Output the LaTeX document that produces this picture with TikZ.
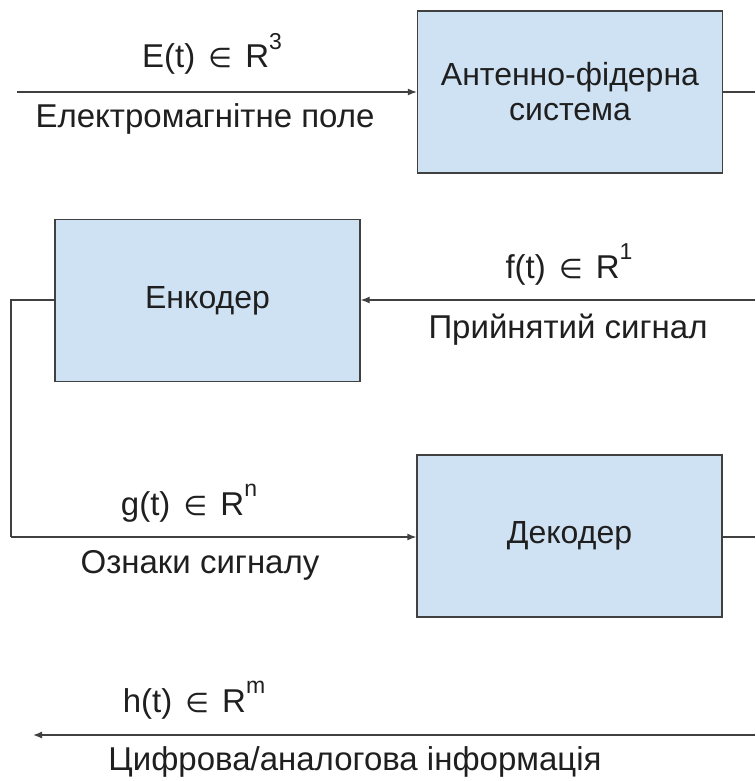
\documentclass[tikz,border=0pt]{standalone}
\usepackage{fontspec}
\setmainfont{Liberation Sans}
\newfontfamily\symfont{DejaVu Sans}
\usetikzlibrary{arrows.meta,positioning}
\definecolor{boxblue}{HTML}{CFE2F3}
\definecolor{edgegray}{HTML}{404040}
\definecolor{inkgray}{HTML}{1F1F1F}
% signal name with its space
\newcommand{\sigspace}[2]{#1(t)\hspace{0.4em}\scalebox{0.82}{\symfont\char"2208}\hspace{0.4em}R\raisebox{0.55em}{\fontsize{23}{23}\selectfont #2}}

\begin{document}
\begin{tikzpicture}[x=1pt,y=-1pt,
    block/.style={draw=edgegray, fill=boxblue, line width=1.3pt, minimum width=305pt,
        minimum height=162pt, align=center, text=inkgray, font=\fontsize{32}{35}\selectfont},
    link/.style={draw=edgegray, line width=1.3pt},
    arr/.style={link, -{Latex[length=9pt,width=7pt]}},
    lbl/.style={font=\fontsize{33}{36}\selectfont, text=inkgray, inner sep=0pt, anchor=base}]
    \useasboundingbox (0,0) rectangle (755,781);

    % blocks
    \node[block] (afs) at (570,92) {Антенно-фідерна\\система};
    \node[block] (enc) at (207.5,300.5) {Енкодер};
    \node[block] (dec) at (569.5,536) {Декодер};

    % free ends
    \coordinate (fieldin) at (17,92);
    \coordinate (afsout) at (755,92);
    \coordinate (encin) at (755,300);
    \coordinate (loopl) at (11,300);
    \coordinate (loopd) at (11,537);
    \coordinate (decout) at (755,537);
    \coordinate (infoin) at (755,735);
    \coordinate (infoout) at (33,735);

    % connectors
    \draw[arr] (fieldin) -- (afs.west |- fieldin);
    \draw[link] (afs.east |- afsout) -- (afsout);
    \draw[arr] (encin) -- (enc.east |- encin);
    \draw[link] (enc.west |- loopl) -- (loopl) -- (loopd);
    \draw[arr] (loopd) -- (dec.west |- loopd);
    \draw[link] (dec.east |- decout) -- (decout);
    \draw[arr] (infoin) -- (infoout);

    % labels (placed by baseline)
    \node[lbl] (elab) at (212,68) {\sigspace{E}{3}};
    \node[lbl] (etxt) at (205,128) {Електромагнітне поле};
    \node[lbl] (flab) at (569,278) {\sigspace{f}{1}};
    \node[lbl] (ftxt) at (568,338) {Прийнятий сигнал};
    \node[lbl] (glab) at (189,515) {\sigspace{g}{n}};
    \node[lbl] (gtxt) at (200,573) {Ознаки сигналу};
    \node[lbl] (hlab) at (194,712) {\sigspace{h}{m}};
    \node[lbl] (htxt) at (355,770) {Цифрова/аналогова інформація};
\end{tikzpicture}
\end{document}
